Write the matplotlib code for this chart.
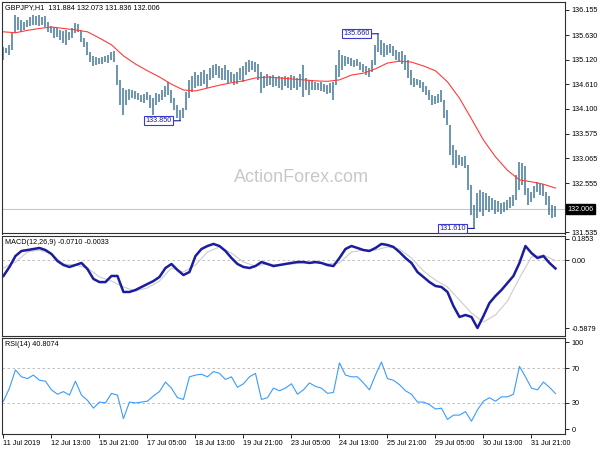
import numpy as np
import matplotlib
matplotlib.use('Agg')
import matplotlib.pyplot as plt
from matplotlib.transforms import blended_transform_factory

plt.rcParams['font.family'] = ['Liberation Sans', 'DejaVu Sans']

# GBPJPY H1 bars (one entry per 2 hourly bars)
highs = [135.38, 135.36, 135.43, 135.68, 136.05, 136.01, 135.95, 135.90, 135.95, 136.01,
         136.05, 136.03, 136.05, 136.01, 136.03, 135.90, 135.82, 135.80, 135.78, 135.74,
         135.72, 135.74, 135.70, 135.78, 135.88, 135.86, 135.74, 135.57, 135.49, 135.28,
         135.20, 135.18, 135.16, 135.18, 135.20, 135.22, 135.28, 135.30, 135.01, 134.70,
         134.53, 134.49, 134.51, 134.49, 134.47, 134.43, 134.39, 134.41, 134.45, 134.39,
         134.32, 134.43, 134.41, 134.49, 134.57, 134.66, 134.49, 134.32, 134.18, 134.07,
         134.11, 134.45, 134.70, 134.78, 134.86, 134.80, 134.86, 134.91, 134.82, 134.95,
         135.01, 135.03, 134.99, 134.95, 135.01, 134.91, 134.86, 134.82, 134.86, 134.95,
         134.99, 135.07, 135.12, 135.10, 135.07, 135.03, 134.86, 134.78, 134.82, 134.78,
         134.80, 134.76, 134.78, 134.76, 134.78, 134.76, 134.80, 134.78, 134.74, 134.82,
         135.01, 134.74, 134.70, 134.70, 134.66, 134.64, 134.66, 134.61, 134.59, 134.64,
         134.66, 135.01, 135.32, 135.22, 135.20, 135.18, 135.16, 135.12, 135.14, 135.07,
         135.03, 134.99, 134.95, 135.12, 135.43, 135.66, 135.53, 135.47, 135.43, 135.45,
         135.41, 135.32, 135.28, 135.30, 135.22, 135.12, 134.91, 134.74, 134.72, 134.70,
         134.66, 134.57, 134.49, 134.39, 134.36, 134.41, 134.49, 134.28, 134.07, 133.76,
         133.35, 133.24, 133.14, 133.10, 133.12, 132.93, 132.51, 132.10, 132.35, 132.41,
         132.37, 132.35, 132.28, 132.24, 132.20, 132.18, 132.14, 132.16, 132.20, 132.26,
         132.31, 132.72, 132.99, 132.97, 132.91, 132.45, 132.37, 132.49, 132.58, 132.55,
         132.53, 132.37, 132.28, 132.10, 132.07]
lows = [135.11, 135.26, 135.22, 135.32, 135.68, 135.74, 135.70, 135.74, 135.80, 135.82,
        135.84, 135.84, 135.82, 135.84, 135.80, 135.70, 135.68, 135.57, 135.59, 135.53,
        135.47, 135.43, 135.53, 135.57, 135.68, 135.70, 135.49, 135.38, 135.22, 135.07,
        134.99, 135.01, 135.03, 135.03, 135.07, 135.05, 135.12, 135.07, 134.59, 134.18,
        133.97, 134.18, 134.28, 134.32, 134.30, 134.28, 134.24, 134.22, 134.28, 134.11,
        133.97, 134.18, 134.24, 134.28, 134.34, 134.39, 134.22, 134.07, 133.91, 133.85,
        133.91, 134.07, 134.32, 134.45, 134.53, 134.57, 134.57, 134.61, 134.53, 134.70,
        134.74, 134.80, 134.74, 134.70, 134.70, 134.64, 134.66, 134.59, 134.61, 134.70,
        134.66, 134.80, 134.86, 134.91, 134.86, 134.70, 134.43, 134.53, 134.57, 134.59,
        134.55, 134.57, 134.53, 134.49, 134.57, 134.53, 134.49, 134.53, 134.49, 134.55,
        134.34, 134.49, 134.39, 134.49, 134.49, 134.49, 134.47, 134.45, 134.41, 134.43,
        134.28, 134.59, 134.76, 134.91, 134.99, 135.03, 134.99, 134.97, 134.99, 134.91,
        134.86, 134.80, 134.76, 134.86, 135.01, 135.28, 135.22, 135.18, 135.22, 135.26,
        135.20, 135.12, 135.07, 135.03, 134.91, 134.74, 134.59, 134.55, 134.59, 134.53,
        134.45, 134.39, 134.28, 134.18, 134.20, 134.22, 134.24, 133.91, 133.76, 133.14,
        132.93, 132.86, 132.93, 132.91, 132.86, 132.41, 131.89, 131.61, 131.82, 131.95,
        131.87, 131.99, 131.95, 131.99, 131.91, 131.95, 131.91, 131.95, 131.99, 132.03,
        132.08, 132.20, 132.41, 132.51, 132.31, 132.10, 132.16, 132.24, 132.37, 132.31,
        132.28, 132.10, 131.89, 131.82, 131.84]
last_ohlc = [131.884, 132.073, 131.836, 132.006]

# red moving average, one value every 4 entries above
ma = [135.70, 135.68, 135.73, 135.77, 135.80, 135.77, 135.74, 135.70, 135.57, 135.43,
      135.20, 135.03, 134.89, 134.76, 134.61, 134.49, 134.47, 134.53, 134.59, 134.64,
      134.68, 134.74, 134.76, 134.74, 134.72, 134.70, 134.68, 134.67, 134.70, 134.80,
      134.84, 134.93, 135.05, 135.09, 135.07, 134.99, 134.89, 134.66, 134.32, 133.89,
      133.45, 133.10, 132.82, 132.62, 132.58, 132.53, 132.45]

# MACD main line (every 2 entries) and signal line (every 4 entries)
macd = [-0.136, -0.058, 0.037, 0.081, 0.089, 0.098, 0.107, 0.089, 0.055, -0.006,
        -0.041, -0.058, -0.041, -0.023, -0.076, -0.162, -0.189, -0.189, -0.136, -0.136,
        -0.275, -0.275, -0.258, -0.232, -0.206, -0.180, -0.145, -0.067, -0.032, -0.084,
        -0.128, -0.102, 0.037, 0.098, 0.124, 0.142, 0.124, 0.081, 0.020, -0.032,
        -0.058, -0.067, -0.050, -0.015, -0.032, -0.050, -0.041, -0.032, -0.023, -0.015,
        -0.015, -0.023, -0.015, -0.023, -0.041, -0.050, 0.020, 0.098, 0.124, 0.107,
        0.089, 0.081, 0.107, 0.142, 0.133, 0.116, 0.072, 0.020, -0.023, -0.102,
        -0.145, -0.189, -0.223, -0.232, -0.275, -0.397, -0.492, -0.475, -0.492, -0.588,
        -0.484, -0.371, -0.310, -0.258, -0.197, -0.136, -0.023, 0.124, 0.063, 0.020,
        0.037, -0.023, -0.0710]
signal = [-0.067, -0.015, 0.072, 0.089, 0.055, -0.032, -0.041, -0.067, -0.145, -0.180,
          -0.232, -0.267, -0.240, -0.180, -0.067, -0.102, -0.041, 0.072, 0.116, 0.063,
          -0.015, -0.050, -0.032, -0.041, -0.032, -0.023, -0.023, -0.032, -0.023, 0.072,
          0.089, 0.089, 0.116, 0.098, 0.020, -0.093, -0.171, -0.232, -0.345, -0.458,
          -0.536, -0.475, -0.354, -0.154, 0.029, 0.046, -0.0033]

# RSI(14), every 2 entries
rsi = [32, 47, 68, 60, 58, 62, 56, 55, 45, 40,
       43, 39, 55, 39, 33, 24, 31, 30, 41, 39,
       12, 31, 30, 31, 32, 38, 43, 54, 47, 36,
       34, 60, 62, 63, 60, 66, 64, 57, 60, 48,
       52, 60, 64, 34, 36, 47, 44, 47, 52, 40,
       45, 53, 49, 47, 41, 42, 76, 62, 60, 60,
       53, 45, 62, 77, 58, 56, 51, 44, 40, 31,
       31, 28, 23, 24, 11, 16, 16, 20, 9, 22,
       32, 36, 32, 37, 37, 40, 72, 60, 47, 45,
       54, 48, 40.8074]

price_ticks = [136.155, 135.630, 135.120, 134.610, 134.100, 133.575, 133.065, 132.555, 131.535]
marked_prices = [135.660, 133.850, 131.610]
macd_ticks = [0.1853, 0.0, -0.5879]
rsi_ticks = [100, 70, 30, 0]
time_labels = ['11 Jul 2019', '12 Jul 13:00', '15 Jul 21:00', '17 Jul 05:00',
               '18 Jul 13:00', '19 Jul 21:00', '23 Jul 05:00', '24 Jul 13:00',
               '25 Jul 21:00', '29 Jul 05:00', '30 Jul 13:00', '31 Jul 21:00']

# x positions in hourly bar units
xs = np.arange(len(highs)) * 2 + 0.5
ma_x = xs[::4]
macd_x = xs[::2]
sig_x = xs[::4]
rsi_x = xs[::2]

W, H = 600, 450
fig = plt.figure(figsize=(W / 100, H / 100), dpi=100)

def panel(top, bottom):
    ax = fig.add_axes([1.5 / W, 1 - bottom / H, 564 / W, (bottom - top) / H])
    ax.set_xlim(-0.8, 375.2)
    for s in ax.spines.values():
        s.set_color('#303030')
        s.set_linewidth(0.8)
    ax.yaxis.tick_right()
    ax.tick_params(axis='y', direction='out', length=3, width=0.6, labelsize=5.2, pad=1.5)
    ax.tick_params(axis='x', bottom=False, labelbottom=False)
    return ax

ax1 = panel(2, 233.5)
ax2 = panel(236, 335.5)
ax3 = panel(338, 434)

tiny = 5.2

# price panel
ax1.set_ylim(131.505, 136.32)
ax1.axhline(last_ohlc[3], color='#c8c8c8', lw=0.8, zorder=0)
ax1.vlines(xs, lows, highs, color='#44789a', lw=1.1)
ax1.plot(ma_x, ma, color='#ff3b3b', lw=0.8)
ax1.set_yticks(price_ticks)
ax1.set_yticklabels([f'{v:.3f}' for v in price_ticks])
tr = blended_transform_factory(ax1.transAxes, ax1.transData)
ax1.text(1.004, last_ohlc[3], f'{last_ohlc[3]:.3f}', transform=tr, ha='left', va='center',
         color='white', fontsize=tiny,
         bbox=dict(boxstyle='square,pad=0.2', fc='black', ec='black'))
ax1.text(0.006, 0.992, 'GBPJPY,H1  ' + ' '.join(f'{v:.3f}' for v in last_ohlc),
         transform=ax1.transAxes, ha='left', va='top', fontsize=tiny)
ax1.text(0.531, 0.244, 'ActionForex.com', transform=ax1.transAxes, ha='center',
         va='center', fontsize=13, color='#c8c8c8')

hi = np.array(highs)
lo = np.array(lows)
for v in marked_prices:
    k = int(np.argmin(np.minimum(abs(hi - v), abs(lo - v))))
    ax1.annotate(f'{v:.3f}', xy=(xs[k], v), xytext=(-9, 0), textcoords='offset pixels',
                 ha='right', va='center', fontsize=tiny, color='#1c1ca0',
                 bbox=dict(boxstyle='square,pad=0.15', fc='white', ec='#3a3ad0', lw=0.8),
                 arrowprops=dict(arrowstyle='-', color='#1c1ca0', lw=0.8,
                                 shrinkA=0, shrinkB=0))

# MACD panel
ax2.set_ylim(-0.653, 0.211)
ax2.axhline(0, color='#b4b4b4', lw=0.6, ls=(0, (3, 3)))
ax2.plot(sig_x, signal, color='#cccccc', lw=0.8)
ax2.plot(macd_x, macd, color='#1c1ca0', lw=1.8)
ax2.set_yticks(macd_ticks)
ax2.set_yticklabels(['0.1853', '0.00', '-0.5879'])
ax2.text(0.006, 0.965, f'MACD(12,26,9) {macd[-1]:.4f} {signal[-1]:.4f}',
         transform=ax2.transAxes, ha='left', va='top', fontsize=tiny)

# RSI panel
ax3.set_ylim(-5.7, 104.6)
for lvl in (70, 30):
    ax3.axhline(lvl, color='#b4b4b4', lw=0.6, ls=(0, (3, 3)))
ax3.plot(rsi_x, rsi, color='#3a9cff', lw=0.8)
ax3.set_yticks(rsi_ticks)
ax3.set_yticklabels([str(v) for v in rsi_ticks])
ax3.text(0.006, 0.965, f'RSI(14) {rsi[-1]:.4f}',
         transform=ax3.transAxes, ha='left', va='top', fontsize=tiny)
ax3.set_xticks(np.arange(len(time_labels)) * 32)
ax3.set_xticklabels(time_labels, ha='left')
ax3.tick_params(axis='x', bottom=True, labelbottom=True, direction='out', length=3,
                width=0.6, labelsize=tiny, pad=1.5)

fig.savefig('out.png', dpi=100, facecolor='white')
